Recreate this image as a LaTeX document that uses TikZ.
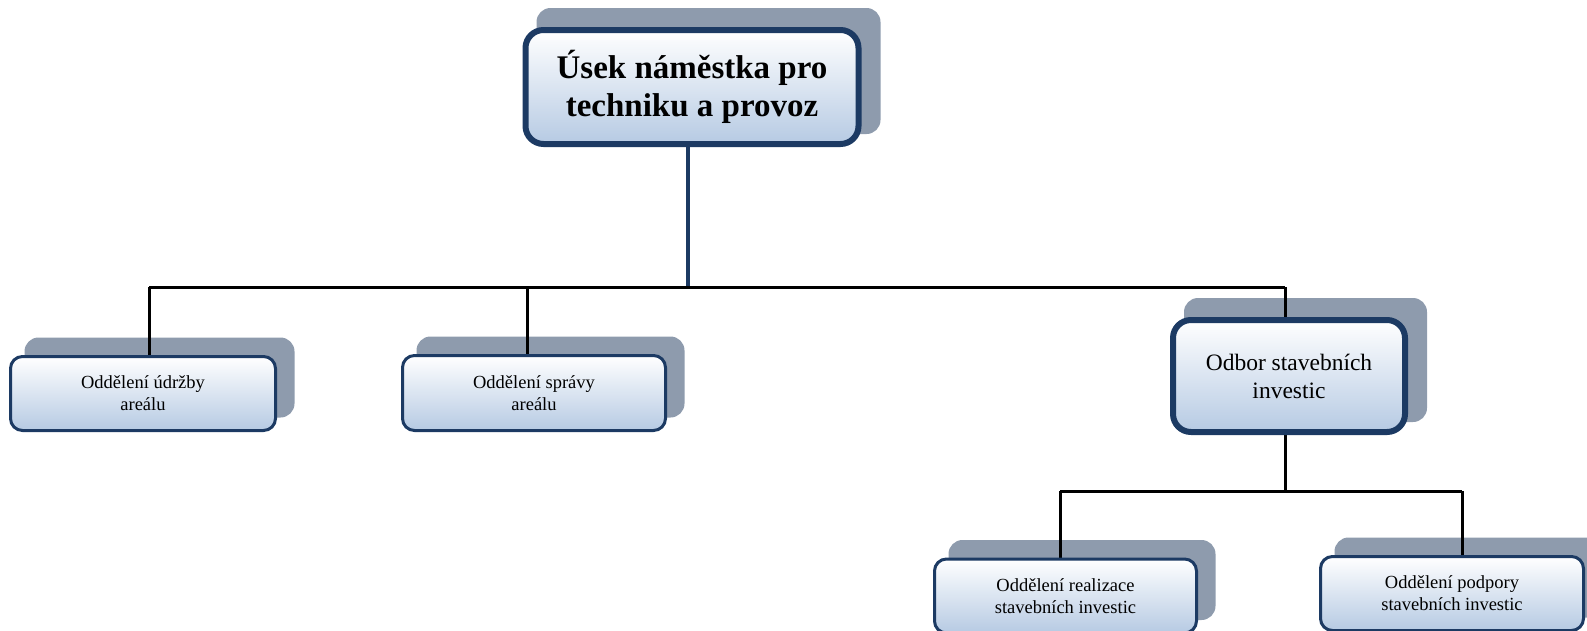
\documentclass[tikz,border=0pt]{standalone}
\usepackage{fontspec}
\setmainfont{Liberation Serif}
\usetikzlibrary{calc,backgrounds}
\definecolor{navy}{HTML}{1C3A63}
\definecolor{shadowgray}{HTML}{8E9BAD}
\definecolor{boxblue}{HTML}{B6CAE3}
\tikzset{
  unit/.style={rounded corners=12pt, draw=navy, line width=3pt, top color=white, bottom color=boxblue,
    align=center, inner sep=0pt, font=\fontsize{18.5}{22}\selectfont},
  bigunit/.style={unit, line width=6pt, rounded corners=18pt},
  link/.style={line width=3pt, black},
  toplink/.style={line width=3.5pt, navy},
  shadowbox/.style={fill=shadowgray, rounded corners=14pt},
}
\begin{document}
\begin{tikzpicture}[x=1pt,y=-1pt]
\useasboundingbox (0,0) rectangle (1587,630);
\node[bigunit, minimum width=333pt, minimum height=114pt, font=\fontsize{33}{38}\selectfont\bfseries]
  (top) at (692,87) {Úsek náměstka pro\\techniku a provoz};
\node[unit, minimum width=265pt, minimum height=74pt] (b1) at (143,393.5) {Oddělení údržby\\areálu};
\node[unit, minimum width=263pt, minimum height=75pt] (b2) at (534,393) {Oddělení správy\\areálu};
\node[bigunit, minimum width=232pt, minimum height=112pt, font=\fontsize{23.5}{28}\selectfont]
  (odbor) at (1289,376) {Odbor stavebních\\investic};
\node[unit, minimum width=262pt, minimum height=74pt] (b3) at (1065.5,596) {Oddělení realizace\\stavebních investic};
\node[unit, minimum width=263pt, minimum height=74pt] (b4) at (1452,593.5) {Oddělení podpory\\stavebních investic};
% bus coordinates
\coordinate (bus0) at (688,287);
\coordinate (bus1) at (149,287);
\coordinate (bus2) at (527,287);
\coordinate (bus3) at (1285,287);
\coordinate (lbus0) at (1285,491);
\coordinate (lbus1) at (1060,491);
\coordinate (lbus2) at (1462,491);
\begin{scope}[on background layer]
  \clip (0,0) rectangle (1587,630);
  \foreach \n/\w in {top/3, odbor/3, b1/1.5, b2/1.5, b3/1.5, b4/1.5}
    \fill[shadowbox] ($(\n.north west)+(17-\w,-16-\w)$) rectangle ($(\n.south east)+(16+\w,-16+\w)$);
  \draw[toplink] (top.south -| bus0) -- (bus0);
  \draw[link] (bus1) -- (bus3);
  \draw[link] (bus1) -- (bus1 |- b1.north);
  \draw[link] (bus2) -- (bus2 |- b2.north);
  \draw[link] (bus3) -- (bus3 |- odbor.north);
  \draw[link] (odbor.south -| lbus0) -- (lbus0);
  \draw[link] (lbus1) -- (lbus2);
  \draw[link] (lbus1) -- (lbus1 |- b3.north);
  \draw[link] (lbus2) -- (lbus2 |- b4.north);
\end{scope}
\end{tikzpicture}
\end{document}
